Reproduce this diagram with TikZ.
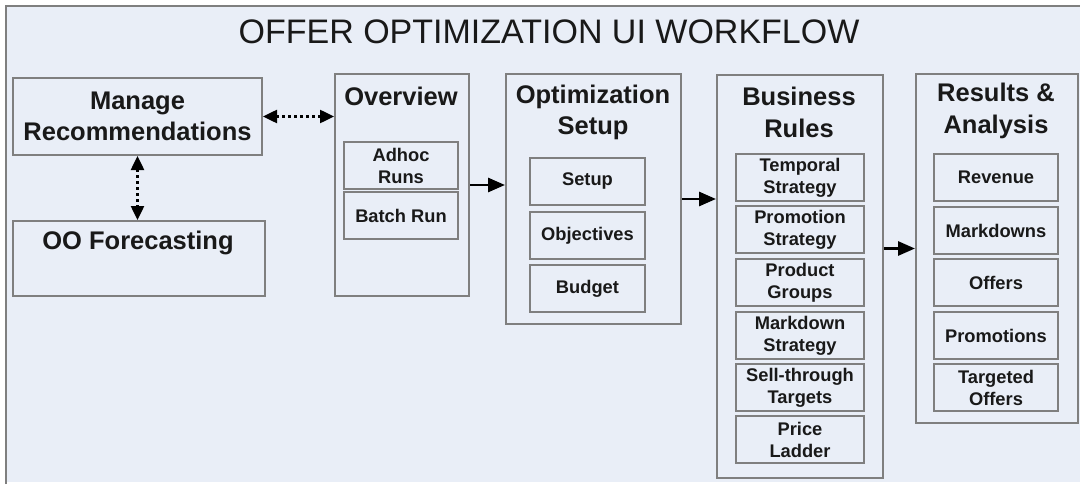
\documentclass[tikz,border=0pt]{standalone}
\usepackage{fontspec}
\setmainfont{Liberation Sans}
\usetikzlibrary{arrows.meta}
\definecolor{bgc}{HTML}{E9EEF7}
\definecolor{edge}{HTML}{7F7F7F}
\begin{document}
\begin{tikzpicture}[x=1pt,y=-1pt,
  panel/.style={draw=edge, line width=2pt, fill=bgc, anchor=north west, inner sep=0pt},
  item/.style={draw=edge, line width=2pt, fill=bgc, anchor=north west, inner sep=0pt},
  itemtext/.style={font=\bfseries\fontsize{18.3}{22}\selectfont, text=black!90, align=center, inner sep=0pt},
  headtext/.style={font=\bfseries\fontsize{25.5}{31.5}\selectfont, text=black!90, align=center, inner sep=0pt},
  solidarrow/.style={line width=2.8pt, -{Triangle[length=17pt,width=14pt]}},
  dotarrow/.style={line width=2.5pt, dash pattern=on 3pt off 3pt, {Triangle[length=14pt,width=13pt]}-{Triangle[length=14pt,width=13pt]}},
]
\useasboundingbox (0,0) rectangle (1080,487);
% frame
\fill[white] (0,0) rectangle (1080,487);
\fill[bgc] (6,6) rectangle (1080,482);
\draw[edge, line width=2pt] (6,484) -- (6,6) -- (1080,6);
\node[font=\fontsize{34}{40}\selectfont, text=black!90, inner sep=0pt] (title) at (549,31.5) {OFFER OPTIMIZATION UI WORKFLOW};

% left boxes
\node[panel, minimum width=249pt, minimum height=77pt] (mr) at (12,77) {};
\node[headtext] (mrt) at (mr.center) {Manage\\Recommendations};
\node[panel, minimum width=252pt, minimum height=75pt] (oo) at (12,220) {};
\node[headtext] (oot) at (138,243) {OO Forecasting};

% overview
\node[panel, minimum width=134pt, minimum height=222pt] (ov) at (334,73) {};
\node[headtext] (ovt) at (401,96) {Overview};
\node[item, minimum width=114pt, minimum height=47pt] (adhoc) at (343,141) {};
\node[itemtext] at (adhoc.center) {Adhoc\\Runs};
\node[item, minimum width=114pt, minimum height=47pt] (batch) at (343,191) {};
\node[itemtext] at (batch.center) {Batch Run};

% optimization setup
\node[panel, minimum width=175pt, minimum height=250pt] (os) at (505,73) {};
\node[headtext] (ost) at (593,112.5) {Optimization\\Setup};
\node[item, minimum width=115pt, minimum height=47pt] (setup) at (529,157) {};
\node[itemtext] at (setup.center) {Setup};
\node[item, minimum width=115pt, minimum height=47pt] (obj) at (529,211) {};
\node[itemtext] at (obj.center) {Objectives};
\node[item, minimum width=115pt, minimum height=47pt] (budget) at (529,264) {};
\node[itemtext] at (budget.center) {Budget};

% business rules
\node[panel, minimum width=166pt, minimum height=403pt] (br) at (716,74) {};
\node[headtext] (brt) at (799,112.5) {Business\\Rules};
\node[item, minimum width=128pt, minimum height=47pt] (br1) at (735,153) {};
\node[itemtext] at (br1.center) {Temporal\\Strategy};
\node[item, minimum width=128pt, minimum height=47pt] (br2) at (735,205) {};
\node[itemtext] at (br2.center) {Promotion\\Strategy};
\node[item, minimum width=128pt, minimum height=47pt] (br3) at (735,258) {};
\node[itemtext] at (br3.center) {Product\\Groups};
\node[item, minimum width=128pt, minimum height=47pt] (br4) at (735,311) {};
\node[itemtext] at (br4.center) {Markdown\\Strategy};
\node[item, minimum width=128pt, minimum height=47pt] (br5) at (735,363) {};
\node[itemtext] at (br5.center) {Sell-through\\Targets};
\node[item, minimum width=128pt, minimum height=47pt] (br6) at (735,415) {};
\node[itemtext] at (br6.center) {Price\\Ladder};

% results & analysis
\node[panel, minimum width=162pt, minimum height=349pt] (ra) at (915,73) {};
\node[headtext] (rat) at (996,111) {Results \&\\Analysis};
\node[item, minimum width=124pt, minimum height=47pt] (ra1) at (933,153) {};
\node[itemtext] at (ra1.center) {Revenue};
\node[item, minimum width=124pt, minimum height=47pt] (ra2) at (933,206) {};
\node[itemtext] at (ra2.center) {Markdowns};
\node[item, minimum width=124pt, minimum height=47pt] (ra3) at (933,258) {};
\node[itemtext] at (ra3.center) {Offers};
\node[item, minimum width=124pt, minimum height=47pt] (ra4) at (933,311) {};
\node[itemtext] at (ra4.center) {Promotions};
\node[item, minimum width=124pt, minimum height=47pt] (ra5) at (933,363) {};
\node[itemtext] at (ra5.center) {Targeted\\Offers};

% connectors
\draw[dotarrow] (mr.east) -- (mr.east -| ov.west);
\draw[dotarrow] (mr.south) -- (mr.south |- oo.north);
\draw[solidarrow] (ov.east) -- (ov.east -| os.west);
\draw[solidarrow] (os.east) -- (os.east -| br.west);
\draw[solidarrow] (br.east |- ra.west) -- (ra.west);
\end{tikzpicture}
\end{document}
